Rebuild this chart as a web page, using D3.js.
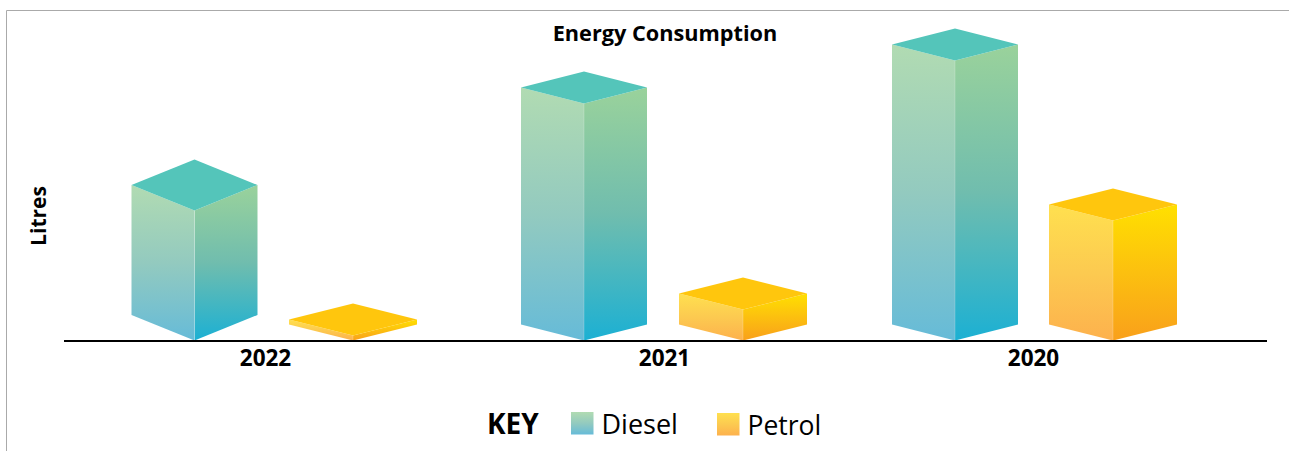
<!DOCTYPE html>
<html>
<head>
<meta charset="utf-8">
<script src="https://cdn.jsdelivr.net/npm/d3@7/dist/d3.min.js"></script>
<style>
html,body{margin:0;padding:0;background:#fff;overflow:hidden}
svg{display:block}
text{font-family:"Open Sans","Noto Sans",sans-serif;fill:#000}
</style>
</head>
<body>
<script>
const years = ["2022", "2021", "2020"];
const seriesNames = ["Diesel", "Petrol"];
const dieselValues = [130, 237, 280];
const petrolValues = [5, 31, 120];
const titleText = "Energy Consumption";
const yAxisLabel = "Litres";
const legendTitle = "KEY";

const W = 1289, H = 451, baseY = 340.5;
const svg = d3.select("body").append("svg").attr("width", W).attr("height", H);

// frame
svg.append("path").attr("d", `M6.5,${H}V10.5H${W}`).attr("fill", "none").attr("stroke", "#aaa").attr("stroke-width", 1);

// gradients
const defs = svg.append("defs");
const grads = {
  dieselL: ["#b1dbb2", "#93cabf", "#66bbd8"],
  dieselR: ["#9ad29b", "#70bdae", "#1cb0d3"],
  petrolL: ["#ffe04f", "#fcca50", "#fdb14d"],
  petrolR: ["#ffe000", "#fcc00f", "#f9a01b"]
};
Object.entries(grads).forEach(([id, c]) => {
  const g = defs.append("linearGradient").attr("id", id).attr("x1", 0).attr("y1", 0).attr("x2", 0).attr("y2", 1);
  c.forEach((col, i) => g.append("stop").attr("offset", i / (c.length - 1)).attr("stop-color", col));
});
const topColor = { Diesel: "#54c5ba", Petrol: "#ffc60d" };

// scales
const y = d3.scaleLinear().domain([0, 300]).range([0, 300]);
const barIds = years.flatMap(yr => seriesNames.map(s => yr + s));
const xBar = d3.scaleOrdinal().domain(barIds).range([194.5, 353, 584, 743, 955, 1113]);
const xLabel = d3.scaleOrdinal().domain(years).range([265, 664, 1033]);

const halfW = { Diesel: 63, Petrol: 64 };
const rise = (yr, s) => (yr === "2022" && s === "Diesel") ? 25.5 : 16;

const bars = years.flatMap((yr, i) => [
  { yr, s: "Diesel", v: dieselValues[i] },
  { yr, s: "Petrol", v: petrolValues[i] }
]);

const g = svg.selectAll("g.bar").data(bars).join("g").attr("class", "bar");
g.each(function (d) {
  const sel = d3.select(this);
  const cx = xBar(d.yr + d.s), w = halfW[d.s], r = rise(d.yr, d.s), h = y(d.v);
  const front = baseY - h;
  const key = d.s.toLowerCase();
  sel.append("path").attr("fill", `url(#${key}R)`)
    .attr("d", `M${cx + w},${baseY - r}L${cx},${baseY}V${front}L${cx + w},${front - r}Z`);
  sel.append("path").attr("fill", `url(#${key}L)`)
    .attr("d", `M${cx - w},${baseY - r}L${cx},${baseY}V${front}L${cx - w},${front - r}Z`);
  sel.append("path").attr("fill", topColor[d.s])
    .attr("d", `M${cx - w},${front - r}L${cx},${front}L${cx + w},${front - r}L${cx},${front - 2 * r}Z`);
  // faint light seam along the front edge
  sel.append("line").attr("x1", cx).attr("x2", cx).attr("y1", front).attr("y2", baseY)
    .attr("stroke", "#fff").attr("stroke-opacity", 0.3).attr("stroke-width", 0.7);
});

// baseline + axis labels
svg.append("line").attr("x1", 64).attr("x2", 1267).attr("y1", 341).attr("y2", 341)
  .attr("stroke", "#000").attr("stroke-width", 2);

const axis = d3.axisBottom(xLabel).tickSize(0).tickPadding(0);
const ax = svg.append("g").attr("transform", "translate(0,340)").call(axis);
ax.select(".domain").remove();
ax.selectAll("text").attr("font-size", 22.5).attr("font-weight", 700)
  .attr("y", 26).attr("dy", 0)
  .style("font-family", '"Open Sans",sans-serif').attr("fill", "#000");

// title
svg.append("text").attr("x", 665).attr("y", 41).attr("text-anchor", "middle")
  .attr("font-size", 21.7).attr("font-weight", 700).text(titleText);

// y label
svg.append("text").attr("transform", "translate(46,216) rotate(-90)").attr("text-anchor", "middle")
  .attr("font-size", 21).attr("font-weight", 700).text(yAxisLabel);

// legend
svg.append("text").attr("x", 487).attr("y", 434).attr("font-size", 28).attr("font-weight", 700).text(legendTitle);
const swatchX = d3.scaleOrdinal().domain(seriesNames).range([571, 717]);
const swatchY = d3.scaleOrdinal().domain(seriesNames).range([412, 413]);
const labelSize = d3.scaleOrdinal().domain(seriesNames).range([27, 26.5]);
seriesNames.forEach(s => {
  svg.append("rect").attr("x", swatchX(s)).attr("y", swatchY(s)).attr("width", 22.5).attr("height", 22.5)
    .attr("fill", `url(#${s.toLowerCase()}L)`);
  svg.append("text").attr("x", swatchX(s) + 30.5).attr("y", swatchY(s) + 21.5)
    .attr("font-size", labelSize(s)).text(s);
});
</script>
</body>
</html>
